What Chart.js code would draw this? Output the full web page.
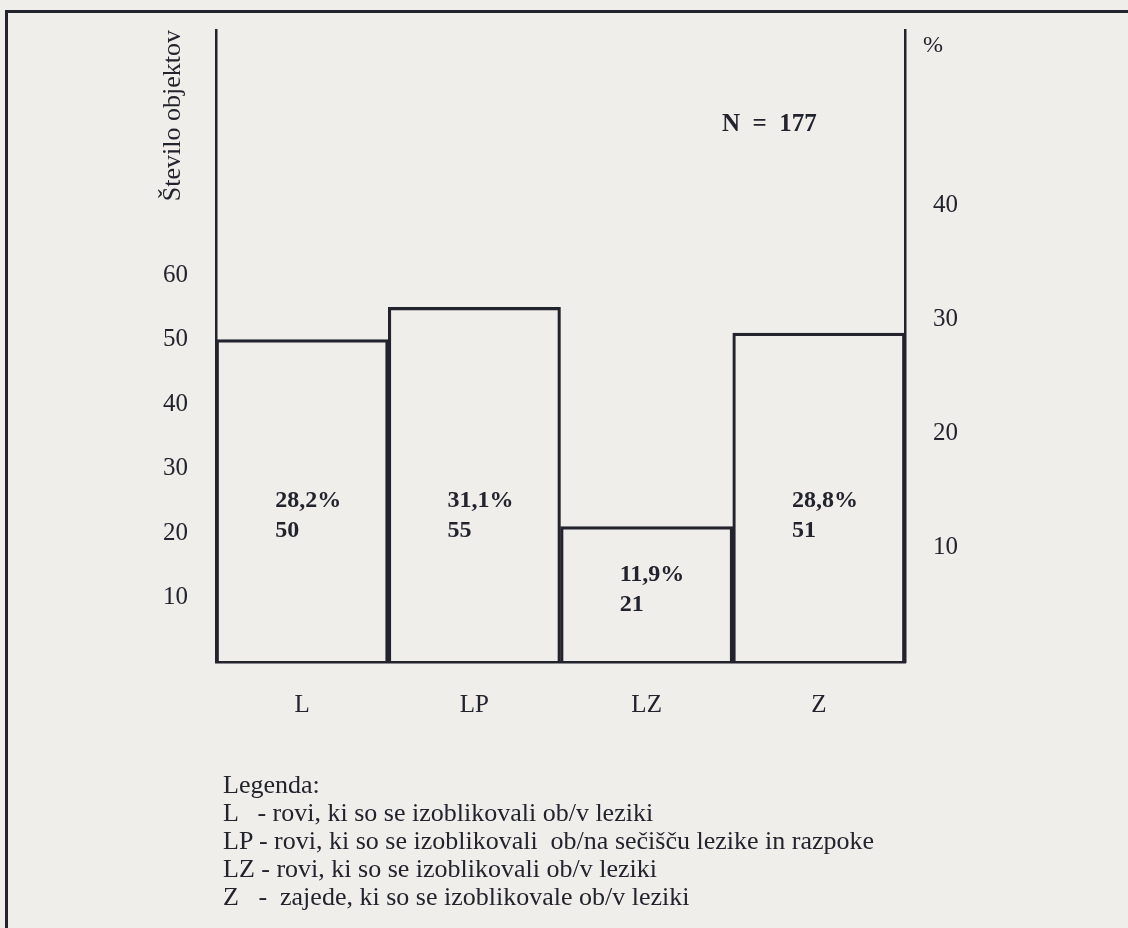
<!DOCTYPE html>
<html>
<head>
<meta charset="utf-8">
<script src="https://cdn.jsdelivr.net/npm/chart.js@4/dist/chart.umd.min.js"></script>
<style>
  body { margin: 0; background: #efeeeb; }
  #wrap { position: relative; width: 1128px; height: 928px; }
  #frame { position: absolute; left: 5px; top: 10px; width: 1140px; height: 940px;
           border-left: 3px solid #23232e; border-top: 3px solid #23232e; }
  .txt { position: absolute; font-family: "Liberation Serif", serif; color: #23232e; white-space: pre; }
  #total { left: 722px; top: 109px; font-size: 25px; font-weight: bold; }
  #pct { left: 923px; top: 31px; font-size: 24px; }
  #legend { left: 223px; top: 771px; font-size: 26px; line-height: 28px; }
</style>
</head>
<body>
<div id="wrap">
  <canvas id="chart" width="1128" height="928"></canvas>
  <div id="frame"></div>
  <div class="txt" id="total">N  =  177</div>
  <div class="txt" id="pct">%</div>
  <div class="txt" id="legend"></div>
</div>
<script>
var categories = ['L', 'LP', 'LZ', 'Z'];
var counts = [50, 55, 21, 51];
var total = 177;
var countTicks = [10, 20, 30, 40, 50, 60];
var percentTicks = [10, 20, 30, 40];
var legendLines = [
	'Legenda:',
	'L   - rovi, ki so se izoblikovali ob/v leziki',
	'LP - rovi, ki so se izoblikovali  ob/na sečišču lezike in razpoke',
	'LZ - rovi, ki so se izoblikovali ob/v leziki',
	'Z   -  zajede, ki so se izoblikovale ob/v leziki'
];

var ink = '#23232e';
var countMax = 98;

document.getElementById('legend').textContent = legendLines.join('\n');

// percent + count written inside each bar
var barLabels = {
	id: 'barLabels',
	afterDatasetsDraw: function(chart) {
		var ctx = chart.ctx;
		var bars = chart.getDatasetMeta(0).data;
		ctx.save();
		ctx.fillStyle = ink;
		ctx.font = 'bold 24px "Liberation Serif"';
		ctx.textAlign = 'left';
		ctx.textBaseline = 'middle';
		bars.forEach(function(bar, i) {
			var v = counts[i];
			var pct = (v / total * 100).toFixed(1).replace('.', ',') + '%';
			var y = chart.scales.y.getPixelForValue(Math.min(v / 2 + 3, 25));
			ctx.fillText(pct, bar.x - 27, y);
			ctx.fillText(String(v), bar.x - 27, y + 30);
		});
		ctx.restore();
	}
};

var tickFont = { family: 'Liberation Serif', size: 25 };

new Chart(document.getElementById('chart'), {
	type: 'bar',
	data: {
		labels: categories,
		datasets: [{
			data: counts,
			backgroundColor: 'rgba(0,0,0,0)',
			borderColor: ink,
			borderWidth: 2.5,
			barPercentage: 1,
			categoryPercentage: 1
		}]
	},
	options: {
		responsive: false,
		animation: false,
		layout: { padding: { left: 154, top: 30, right: 0, bottom: 0 } },
		plugins: { legend: { display: false }, tooltip: { enabled: false } },
		scales: {
			x: {
				grid: { display: false, drawTicks: false },
				border: { display: true, color: ink, width: 2.5 },
				ticks: { color: ink, font: tickFont, padding: 28 },
				afterFit: function(s) { s.height = 266; s.paddingLeft = 0; s.paddingRight = 0; }
			},
			y: {
				position: 'left',
				min: 0,
				max: countMax,
				grid: { display: false, drawTicks: false },
				border: { display: true, color: ink, width: 2.5 },
				ticks: {
					stepSize: 10, color: ink, font: tickFont, padding: 28,
					callback: function(v) { return countTicks.indexOf(v) >= 0 ? v : ''; }
				},
				title: {
					display: true, text: 'Število objektov', align: 'end',
					color: ink, font: { family: 'Liberation Serif', size: 26 }
				},
				afterFit: function(s) { s.width = 62; s.paddingTop = 0; s.paddingBottom = 0; }
			},
			y1: {
				position: 'right',
				min: 0,
				max: countMax / total * 100,
				grid: { display: false, drawTicks: false },
				border: { display: true, color: ink, width: 2.5 },
				ticks: {
					stepSize: 10, color: ink, font: tickFont, padding: 28,
					callback: function(v) { return percentTicks.indexOf(v) >= 0 ? v : ''; }
				},
				afterFit: function(s) { s.width = 223; s.paddingTop = 0; s.paddingBottom = 0; }
			}
		}
	},
	plugins: [barLabels]
});
</script>
</body>
</html>
